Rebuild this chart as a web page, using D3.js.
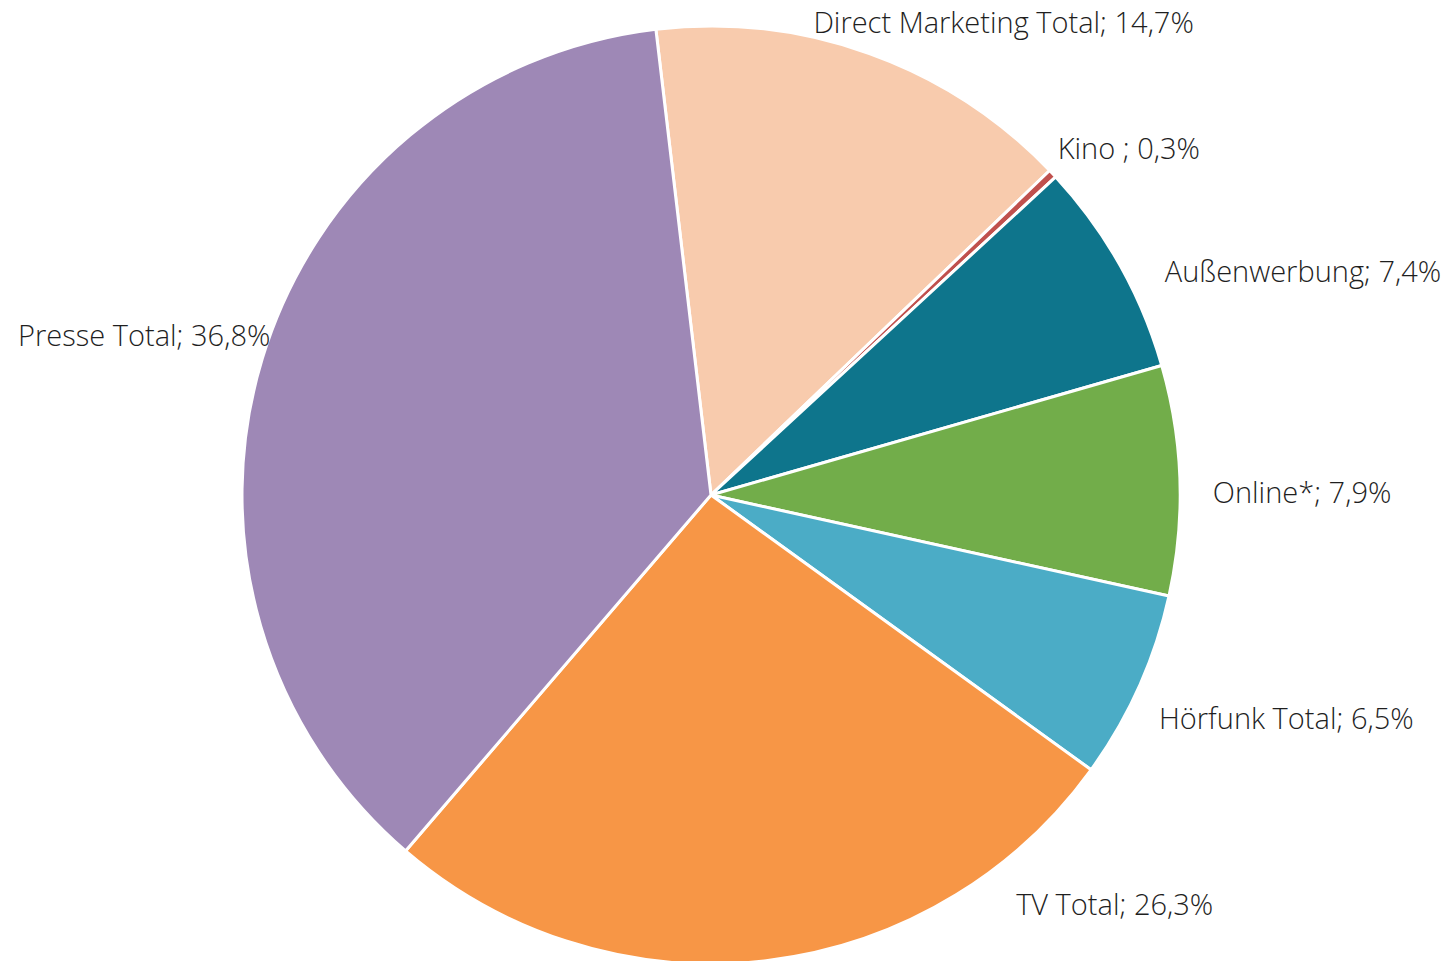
<!DOCTYPE html>
<html>
<head>
<meta charset="utf-8">
<script src="https://cdn.jsdelivr.net/npm/d3@7"></script>
<style>
  body { margin: 0; background: #ffffff; }
  svg { display: block; }
  .label { font-family: "Open Sans", sans-serif; font-weight: 300; font-size: 29px; fill: #1f1f1f; }
</style>
</head>
<body>
<div class="piechart"></div>
<script>
// shares of advertising spend, clockwise from the top
var categories = ["Direct Marketing Total", "Kino ", "Außenwerbung", "Online*", "Hörfunk Total", "TV Total", "Presse Total"];
var shares = [14.7, 0.3, 7.4, 7.9, 6.5, 26.3, 36.8];
var shareLabels = ["14,7%", "0,3%", "7,4%", "7,9%", "6,5%", "26,3%", "36,8%"];
var colors = ["#F8CBAD", "#C0504D", "#0E758C", "#72AD4A", "#4BACC6", "#F79646", "#9E88B6"];

// label nudges from the outer edge point of each slice (excel "best fit" look)
var labelNudge = [[-56, -21], [5, -15], [45, 17], [33, 23], [20, 42], [250, -46], [8, -12]];

var width = 1450;
var height = 961;
var radius = 469;
var cx = 711, cy = 495;

var svg = d3.select(".piechart")
    .append("svg")
    .attr("width", width)
    .attr("height", height);

var g = svg.append("g")
    .attr("transform", "translate(" + cx + "," + cy + ")");

var startAngle = -6.75 * Math.PI / 180;

var pie = d3.pie()
    .sort(null)
    .startAngle(startAngle)
    .endAngle(startAngle + 2 * Math.PI);

var arcs = pie(shares);

var arc = d3.arc()
    .innerRadius(0)
    .outerRadius(radius);

// zero width arc, used to get the point on the rim
var rim = d3.arc()
    .innerRadius(radius)
    .outerRadius(radius);

g.selectAll("path")
    .data(arcs)
    .enter()
    .append("path")
    .attr("d", arc)
    .style("fill", function (d, i) { return colors[i]; })
    .style("stroke", "#ffffff")
    .style("stroke-width", 3)
    .style("stroke-linejoin", "round");

g.selectAll("text.label")
    .data(arcs)
    .enter()
    .append("text")
    .attr("class", "label")
    .attr("x", function (d, i) { return rim.centroid(d)[0] + labelNudge[i][0]; })
    .attr("y", function (d, i) { return rim.centroid(d)[1] + labelNudge[i][1]; })
    .attr("text-anchor", function (d) {
        var mid = (d.startAngle + d.endAngle) / 2;
        return Math.sin(mid) < 0 ? "end" : "start";
    })
    .text(function (d, i) { return categories[i] + "; " + shareLabels[i]; });
</script>
</body>
</html>
